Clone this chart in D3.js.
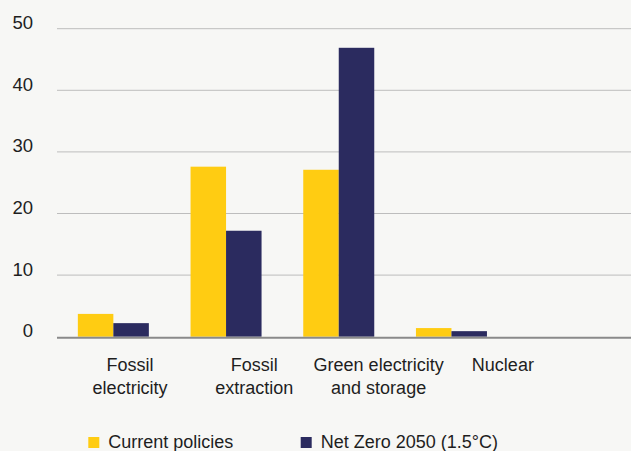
<!DOCTYPE html>
<html><head><meta charset="utf-8">
<script src="https://cdn.jsdelivr.net/npm/d3@7"></script>
<style>body{margin:0;background:#f7f7f5;}svg{display:block;}text{font-family:"Liberation Sans",Arial,sans-serif;fill:#1e1e1e;}</style>
</head><body>
<script>
const categories = [["Fossil","electricity"],["Fossil","extraction"],["Green electricity","and storage"],["Nuclear"]];
const seriesNames = ["Current policies","Net Zero 2050 (1.5°C)"];
const currentPolicies = [3.7, 27.6, 27.1, 1.4];
const netZero = [2.2, 17.2, 46.9, 0.9];
const yTicks = [0,10,20,30,40,50];
const colors = ["#ffcc12","#2b2b5f"];

const W=631,H=451;
const svg=d3.select("body").append("svg").attr("width",W).attr("height",H);
svg.append("rect").attr("width",W).attr("height",H).attr("fill","#f7f7f5");
const y=d3.scaleLinear().domain([0,50]).range([336.7,28.7]);
const idx=d3.range(categories.length);
const x=d3.scaleBand().domain(idx).range([57,507.8]).paddingInner(0.37).paddingOuter(0.185);
const xs=d3.scaleBand().domain([0,1]).range([0,x.bandwidth()]);
const xl=d3.scaleBand().domain(idx).range([68,565]);

// grid
svg.append("g").selectAll("line").data(yTicks.filter(d=>d>0)).join("line")
 .attr("x1",57).attr("x2",W).attr("y1",d=>y(d)).attr("y2",d=>y(d))
 .attr("stroke","#bdbdbd").attr("stroke-width",1);
svg.append("g").selectAll("text").data(yTicks).join("text")
 .attr("x",33).attr("y",d=>y(d)+0.5).attr("text-anchor","end").attr("font-size",18.5).text(d=>d);

const series=[currentPolicies,netZero];
series.forEach((vals,s)=>{
  svg.append("g").selectAll("rect").data(vals).join("rect")
   .attr("x",(d,i)=>x(i)+xs(s)).attr("width",xs.bandwidth())
   .attr("y",d=>y(d)).attr("height",d=>y(0)-y(d)).attr("fill",colors[s]);
});
svg.append("line").attr("x1",57).attr("x2",W).attr("y1",y(0)+1).attr("y2",y(0)+1)
 .attr("stroke","#8a8a8a").attr("stroke-width",2);

const lab=svg.append("g").selectAll("text").data(categories).join("text")
 .attr("text-anchor","middle").attr("font-size",18)
 .attr("x",(d,i)=>xl(i)+xl.bandwidth()/2).attr("y",370.7);
lab.selectAll("tspan").data(d=>d).join("tspan")
 .attr("x",function(){return d3.select(this.parentNode).attr("x");})
 .attr("dy",(d,i)=>i?23.3:0).text(d=>d);

const lx=[88.3,300.7];
const lg=svg.append("g").selectAll("g").data(seriesNames).join("g");
lg.append("rect").attr("x",(d,i)=>lx[i]).attr("y",437).attr("width",11).attr("height",11).attr("fill",(d,i)=>colors[i]);
lg.append("text").attr("x",(d,i)=>lx[i]+20).attr("y",448.3).attr("font-size",18).text(d=>d);
</script>
</body></html>
